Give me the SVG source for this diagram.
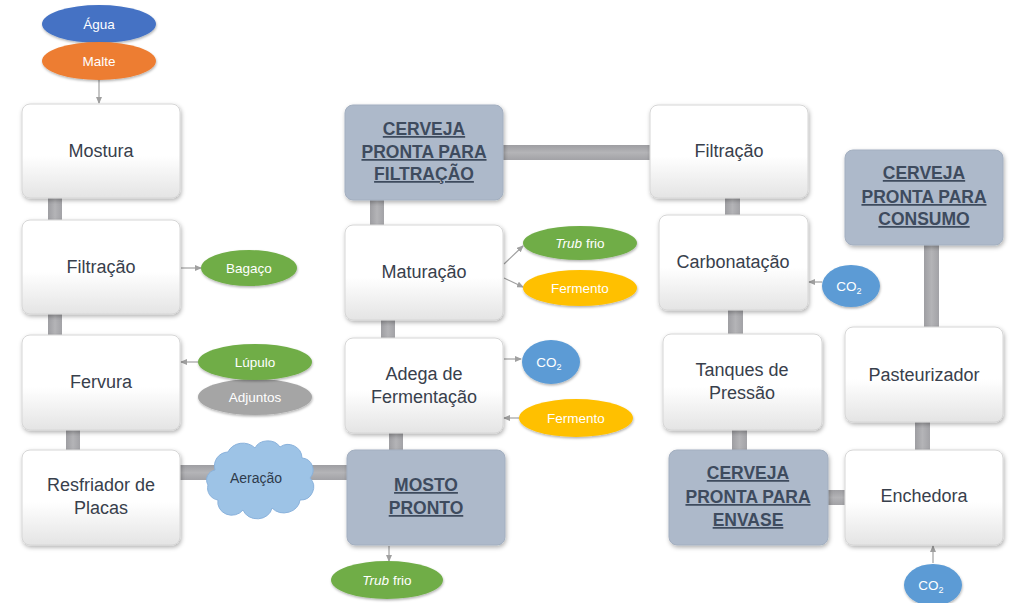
<svg xmlns="http://www.w3.org/2000/svg" width="1024" height="603" viewBox="0 0 1024 603">
<style>
.box{fill:url(#gw);stroke:#D6D6D6;stroke-width:1;filter:url(#sh)}
.dbox{fill:#ADB9CA;stroke:#A3AFC0;stroke-width:1;filter:url(#sh)}
.t{font-family:"Liberation Sans",Arial,sans-serif;font-size:18px;fill:#38404C;text-anchor:middle}
.b{font-family:"Liberation Sans",Arial,sans-serif;font-size:17.5px;font-weight:bold;fill:#3E4B5E;text-anchor:middle;text-decoration:underline}
.e{font-family:"Liberation Sans",Arial,sans-serif;font-size:13.5px;fill:#FFFFFF;text-anchor:middle}
.bar{fill:url(#gb)}
.barh{fill:url(#gbh)}
.ar{stroke:#A0A0A0;stroke-width:1.2;fill:none;marker-end:url(#ah)}
</style>
<defs>
<linearGradient id="gw" x1="0" y1="0" x2="0" y2="1">
<stop offset="0" stop-color="#FFFFFF"/><stop offset="0.55" stop-color="#FFFFFF"/><stop offset="1" stop-color="#E4E4E4"/>
</linearGradient>
<linearGradient id="gb" x1="0" y1="0" x2="1" y2="0">
<stop offset="0" stop-color="#9E9EA2"/><stop offset="0.5" stop-color="#B4B4B7"/><stop offset="1" stop-color="#A2A2A6"/>
</linearGradient>
<linearGradient id="gbh" x1="0" y1="0" x2="0" y2="1">
<stop offset="0" stop-color="#9E9EA2"/><stop offset="0.5" stop-color="#B4B4B7"/><stop offset="1" stop-color="#A2A2A6"/>
</linearGradient>
<filter id="sh" x="-10%" y="-10%" width="125%" height="130%">
<feDropShadow dx="1" dy="2" stdDeviation="2" flood-color="#000" flood-opacity="0.3"/>
</filter>
<filter id="esh" x="-10%" y="-10%" width="125%" height="140%">
<feDropShadow dx="0.5" dy="1.5" stdDeviation="1.2" flood-color="#000" flood-opacity="0.3"/>
</filter>
<marker id="ah" markerWidth="7" markerHeight="6" refX="6" refY="3" orient="auto" markerUnits="userSpaceOnUse">
<path d="M0,0 L7,3 L0,6 Z" fill="#A0A0A0"/>
</marker>
</defs>
<rect width="1024" height="603" fill="#FFFFFF"/>

<g id="connectors">
<rect class="bar" x="48" y="196" width="14" height="26"/>
<rect class="bar" x="48" y="312" width="14" height="25"/>
<rect class="bar" x="66" y="428" width="14" height="24"/>
<rect class="barh" x="178" y="465" width="171" height="15"/>
<rect class="bar" x="389" y="431" width="14" height="21"/>
<rect class="bar" x="381" y="318" width="14" height="22"/>
<rect class="bar" x="370" y="198" width="14" height="29"/>
<rect class="barh" x="501" y="145" width="151" height="15"/>
<rect class="bar" x="725" y="196" width="15" height="21"/>
<rect class="bar" x="728" y="308" width="15" height="28"/>
<rect class="bar" x="732" y="428" width="15" height="24"/>
<rect class="barh" x="826" y="490" width="21" height="15"/>
<rect class="bar" x="915" y="420" width="15" height="32"/>
<rect class="bar" x="924" y="243" width="15" height="86"/>
<line class="ar" x1="99" y1="80" x2="99" y2="103"/>
<line class="ar" x1="181" y1="268" x2="201" y2="268"/>
<line class="ar" x1="199" y1="362" x2="181" y2="362"/>
<line class="ar" x1="389" y1="546" x2="389" y2="561"/>
<line class="ar" x1="504" y1="264" x2="523" y2="246"/>
<line class="ar" x1="504" y1="278" x2="523" y2="287"/>
<line class="ar" x1="504" y1="359" x2="521" y2="359"/>
<line class="ar" x1="519" y1="418" x2="504" y2="418"/>
<line class="ar" x1="822" y1="282" x2="809" y2="282"/>
<line class="ar" x1="933" y1="563" x2="933" y2="546"/>
</g>

<g id="agua"><ellipse cx="99" cy="24" rx="57" ry="19" fill="#4472C4" filter="url(#esh)"/><text class="e" x="99" y="29">Água</text></g>
<g id="malte"><ellipse cx="99" cy="61" rx="57" ry="19" fill="#ED7D31" filter="url(#esh)"/><text class="e" x="99" y="66">Malte</text></g>

<g id="mostura"><rect class="box" x="22" y="104" width="158" height="94" rx="8"/><text class="t" x="101" y="157">Mostura</text></g>
<g id="filtracao1"><rect class="box" x="22" y="220" width="158" height="94" rx="8"/><text class="t" x="101" y="273">Filtração</text></g>
<g id="fervura"><rect class="box" x="22" y="335" width="158" height="95" rx="8"/><text class="t" x="101" y="388">Fervura</text></g>
<g id="resfriador"><rect class="box" x="22" y="450" width="158" height="95" rx="8"/><text class="t" x="101" y="491">Resfriador de</text><text class="t" x="101" y="514">Placas</text></g>

<g id="bagaco"><ellipse cx="249" cy="268" rx="48" ry="18" fill="#70AD47" filter="url(#esh)"/><text class="e" x="249" y="273">Bagaço</text></g>
<g id="adjuntos"><ellipse cx="255" cy="397" rx="57" ry="18" fill="#A5A5A5" filter="url(#esh)"/><text class="e" x="255" y="402">Adjuntos</text></g>
<g id="lupulo"><ellipse cx="255" cy="362" rx="57" ry="18" fill="#70AD47" filter="url(#esh)"/><text class="e" x="255" y="367">Lúpulo</text></g>

<g id="aeracao"><path d="M215,470 A14,14 0 0 1 228,452 A16,14 0 0 1 255,448 A14,12 0 0 1 280,447 A14,14 0 0 1 302,458 A12,12 0 0 1 310,478 A13,13 0 0 1 300,500 A16,14 0 0 1 272,508 A15,13 0 0 1 243,510 A14,13 0 0 1 218,500 A12,12 0 0 1 208,485 A10,10 0 0 1 215,470 Z" fill="#9DC3E6" stroke="#8AB2DC" stroke-width="1"/><text x="256" y="483" font-family="'Liberation Sans',Arial,sans-serif" font-size="14" fill="#2F3B4C" text-anchor="middle">Aeração</text></g>

<g id="cp_filtracao"><rect class="dbox" x="345" y="105" width="158" height="95" rx="8"/><text class="b" x="424" y="135">CERVEJA</text><text class="b" x="424" y="158">PRONTA PARA</text><text class="b" x="424" y="180">FILTRAÇÃO</text></g>
<g id="maturacao"><rect class="box" x="345" y="225" width="158" height="95" rx="8"/><text class="t" x="424" y="278">Maturação</text></g>
<g id="adega"><rect class="box" x="345" y="338" width="158" height="95" rx="8"/><text class="t" x="424" y="380">Adega de</text><text class="t" x="424" y="403">Fermentação</text></g>
<g id="mosto"><rect class="dbox" x="347" y="450" width="158" height="95" rx="8"/><text class="b" x="426" y="491">MOSTO</text><text class="b" x="426" y="514">PRONTO</text></g>

<g id="trub2"><ellipse cx="387" cy="580" rx="56" ry="19" fill="#70AD47" filter="url(#esh)"/><text class="e" x="387" y="585"><tspan font-style="italic">Trub</tspan> frio</text></g>
<g id="trub1"><ellipse cx="580" cy="243" rx="57" ry="17" fill="#70AD47" filter="url(#esh)"/><text class="e" x="580" y="248"><tspan font-style="italic">Trub</tspan> frio</text></g>
<g id="fermento1"><ellipse cx="580" cy="288" rx="57" ry="18" fill="#FFC000" filter="url(#esh)"/><text class="e" x="580" y="293">Fermento</text></g>
<g id="co2a"><ellipse cx="551" cy="362" rx="29" ry="22" fill="#5B9BD5" filter="url(#esh)"/><text class="e" x="549" y="367">CO<tspan font-size="9" dy="3">2</tspan></text></g>
<g id="fermento2"><ellipse cx="576" cy="418" rx="57" ry="19" fill="#FFC000" filter="url(#esh)"/><text class="e" x="576" y="423">Fermento</text></g>

<g id="filtracao2"><rect class="box" x="650" y="105" width="158" height="93" rx="8"/><text class="t" x="729" y="157">Filtração</text></g>
<g id="carbonatacao"><rect class="box" x="659" y="215" width="149" height="95" rx="8"/><text class="t" x="733" y="268">Carbonatação</text></g>
<g id="co2b"><ellipse cx="851" cy="286" rx="29" ry="21" fill="#5B9BD5" filter="url(#esh)"/><text class="e" x="849" y="291">CO<tspan font-size="9" dy="3">2</tspan></text></g>
<g id="tanques"><rect class="box" x="663" y="334" width="159" height="96" rx="8"/><text class="t" x="742" y="376">Tanques de</text><text class="t" x="742" y="399">Pressão</text></g>
<g id="cp_envase"><rect class="dbox" x="669" y="450" width="159" height="95" rx="8"/><text class="b" x="748" y="479">CERVEJA</text><text class="b" x="748" y="503">PRONTA PARA</text><text class="b" x="748" y="526">ENVASE</text></g>

<g id="cp_consumo"><rect class="dbox" x="845" y="150" width="158" height="95" rx="8"/><text class="b" x="924" y="179">CERVEJA</text><text class="b" x="924" y="203">PRONTA PARA</text><text class="b" x="924" y="225">CONSUMO</text></g>
<g id="pasteurizador"><rect class="box" x="845" y="327" width="158" height="95" rx="8"/><text class="t" x="924" y="381">Pasteurizador</text></g>
<g id="enchedora"><rect class="box" x="845" y="450" width="158" height="95" rx="8"/><text class="t" x="924" y="502">Enchedora</text></g>
<g id="co2c"><ellipse cx="933" cy="585" rx="29" ry="21" fill="#5B9BD5" filter="url(#esh)"/><text class="e" x="931" y="590">CO<tspan font-size="9" dy="3">2</tspan></text></g>
</svg>
